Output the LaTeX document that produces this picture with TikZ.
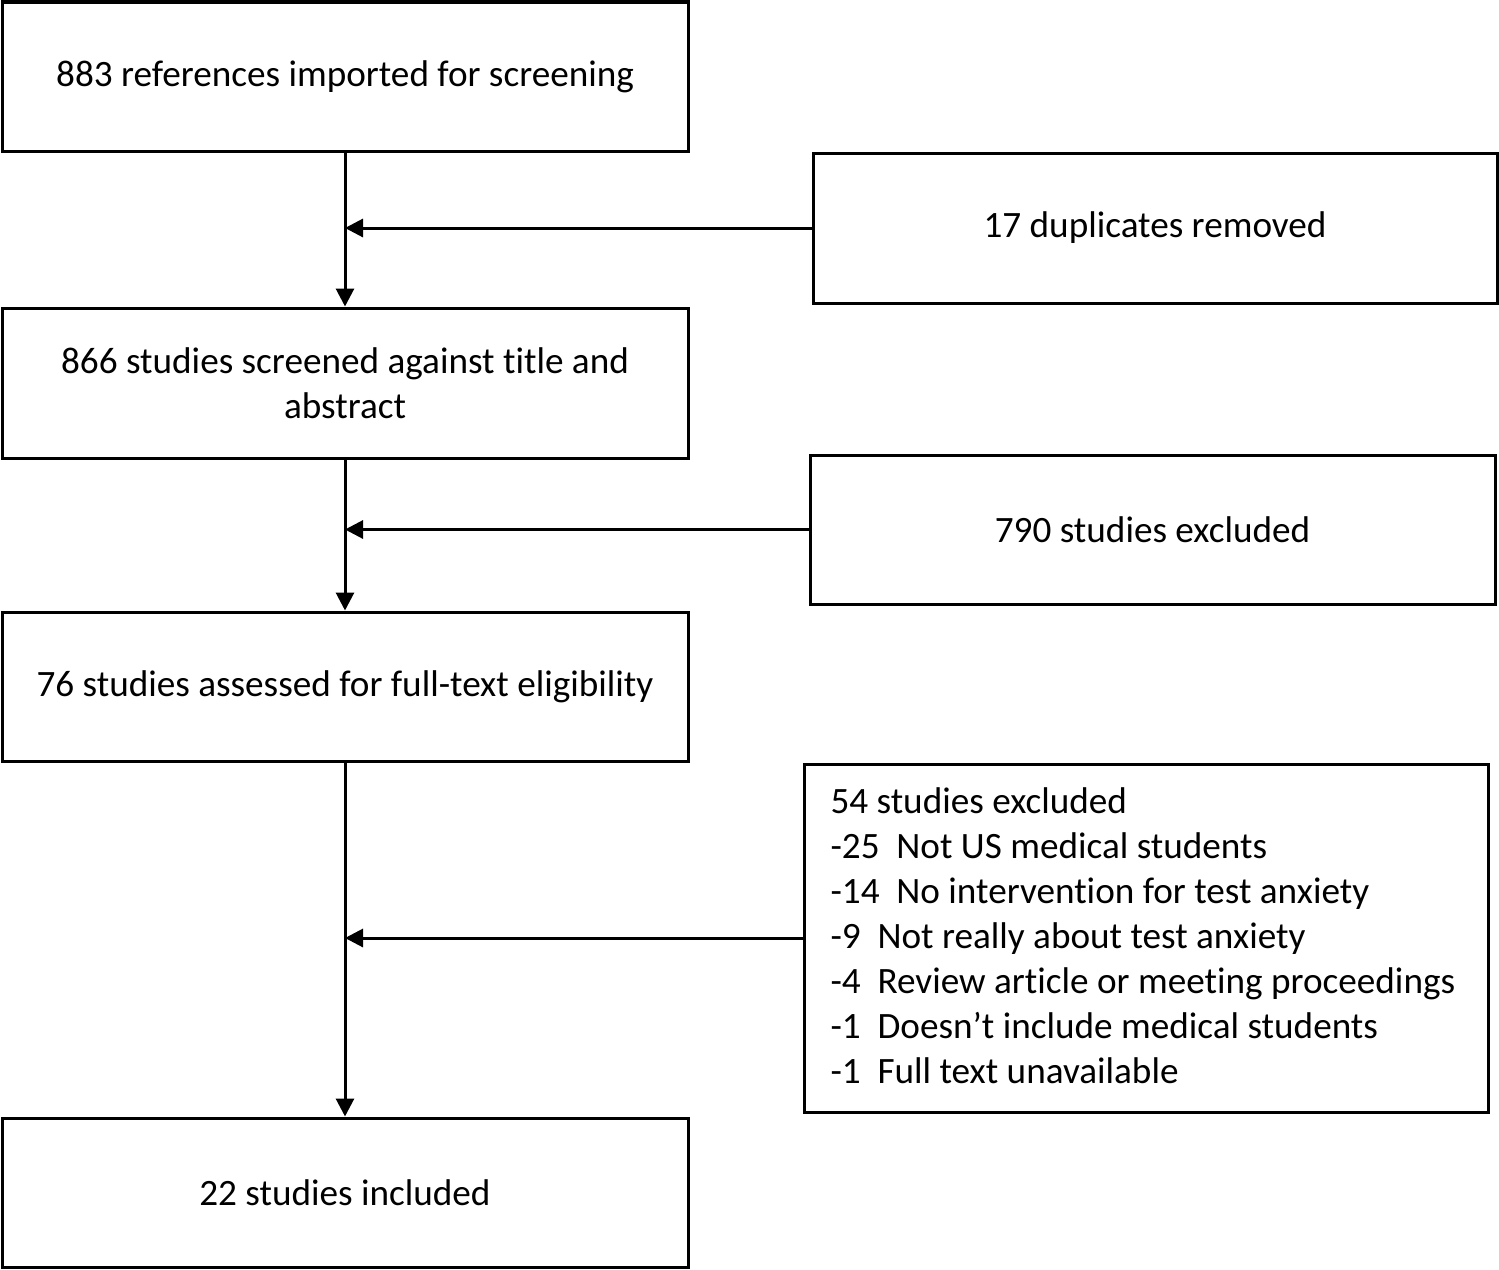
\documentclass[tikz,border=0pt]{standalone}
\usepackage{fontspec}
\setmainfont{Carlito}[Ligatures=NoCommon]
\usetikzlibrary{arrows.meta}
\begin{document}
\begin{tikzpicture}[x=1pt,y=1pt,
  box/.style={draw=black, line width=1.5pt, inner sep=0pt, align=center,
    font=\fontsize{18.6}{22.5}\selectfont},
  conn/.style={line width=1.5pt, -{Triangle[width=9pt,length=9pt]}}]
\useasboundingbox (0,0) rectangle (749.5,-634.5);
\node[box, minimum width=343pt, minimum height=74.5pt] (b1) at (172.5,-38.25) {883 references imported for screening};
\node[box, minimum width=342pt, minimum height=75pt] (dup) at (577.5,-114) {17 duplicates removed};
\node[box, minimum width=343pt, minimum height=75pt] (b2) at (172.5,-191.5) {866 studies screened against title and\\abstract};
\node[box, minimum width=342.5pt, minimum height=74.5pt] (ex1) at (576.25,-264.75) {790 studies excluded};
\node[box, minimum width=343pt, minimum height=74.5pt] (b3) at (172.5,-343.25) {76 studies assessed for full-text eligibility};
\node[box, minimum width=342pt, minimum height=174pt] (ex2) at (573,-469) {};
\node[box, draw=none, align=left, anchor=west] (ex2t) at (414.5,-468) {54 studies excluded\\
-25\ \ Not US medical students\\
-14\ \ No intervention for test anxiety\\
-9\ \ Not really about test anxiety\\
-4\ \ Review article or meeting proceedings\\
-1\ \ Doesn’t include medical students\\
-1\ \ Full text unavailable};
\node[box, minimum width=343pt, minimum height=74.5pt] (b4) at (172.5,-596.25) {22 studies included};
\draw[conn] (b1.south) -- (b2.north);
\draw[conn] (b2.south) -- (b3.north);
\draw[conn] (b3.south) -- (b4.north);
\draw[conn] (dup.west) -- (dup.west -| b1.south);
\draw[conn] (ex1.west) -- (ex1.west -| b1.south);
\draw[conn] (ex2.west) -- (ex2.west -| b1.south);
\end{tikzpicture}
\end{document}
